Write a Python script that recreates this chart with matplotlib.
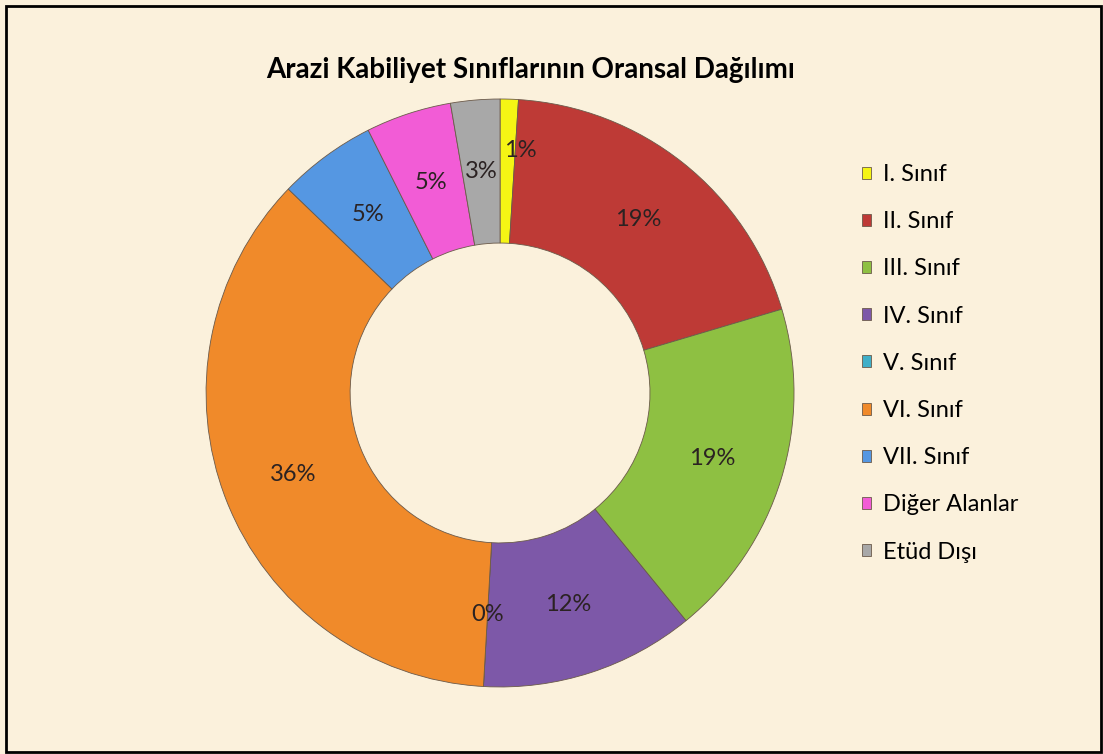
import matplotlib.pyplot as plt
from matplotlib.patches import Rectangle

# Arazi kabiliyet sınıfları (yüzde)
labels = ["I. Sınıf", "II. Sınıf", "III. Sınıf", "IV. Sınıf", "V. Sınıf",
          "VI. Sınıf", "VII. Sınıf", "Diğer Alanlar", "Etüd Dışı"]
values = [1.0, 19.4, 18.7, 11.8, 0.0, 36.3, 5.4, 4.7, 2.7]
colors = ["#F5F514", "#BE3A36", "#8EC042", "#7D58A8", "#3FAFC8",
          "#F08A2A", "#5597E2", "#F25CD6", "#A8A8A8"]
title = "Arazi Kabiliyet Sınıflarının Oransal Dağılımı"

plt.rcParams['font.family'] = ['Lato', 'DejaVu Sans']

W, H = 1103, 754
fig = plt.figure(figsize=(W / 100, H / 100), dpi=100)
fig.patch.set_facecolor("#FBF1DC")

# dış çerçeve
fig.patches.append(Rectangle((6 / W, 2 / H), 1095 / W, 746 / H,
                             transform=fig.transFigure, fill=False,
                             edgecolor="black", linewidth=2))

ax = fig.add_axes([0.1868, 0.0889, 0.5331, 0.7798])
ax.set_facecolor("none")

wedges, texts, autotexts = ax.pie(
    values, colors=colors, startangle=90, counterclock=False,
    radius=1.0, autopct="%.0f%%", pctdistance=0.755,
    wedgeprops=dict(width=0.49, edgecolor="#6b5a4a", linewidth=0.6),
    textprops=dict(fontsize=17, color="#2b2222"))

# %1 etiketi Excel'deki gibi biraz dışarıda ve sağda
x0, y0 = autotexts[0].get_position()
autotexts[0].set_position((x0 + 0.045, y0 + 0.07))

ax.set_xlim(-1, 1)
ax.set_ylim(-1, 1)
ax.set_aspect("equal")
ax.axis("off")

fig.text(531 / W, 1 - 70 / H, title, ha="center", va="center",
         fontsize=20, fontweight="bold", color="black")

fig.legend(wedges, labels, loc="upper left",
           bbox_to_anchor=(862 / W, 1 - 164 / H),
           frameon=False, fontsize=17, handlelength=0.4, handleheight=0.4,
           handletextpad=0.5, labelspacing=1.11, borderaxespad=0, borderpad=0)

plt.savefig("out.png", dpi=100, facecolor=fig.get_facecolor())
